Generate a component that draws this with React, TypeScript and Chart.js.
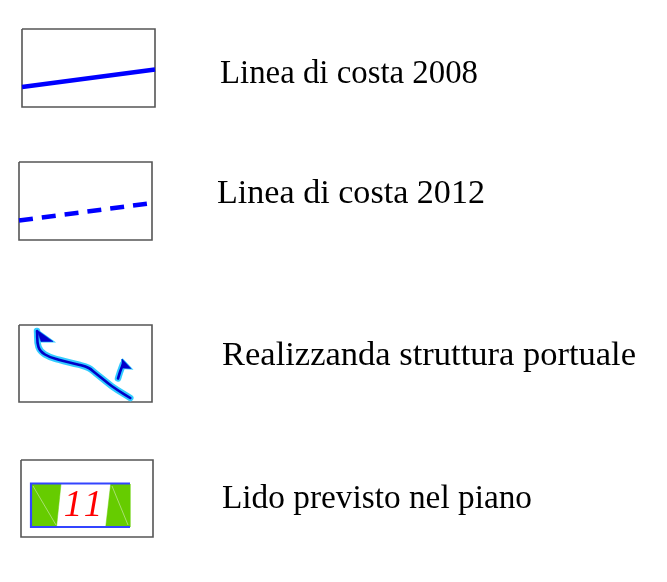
import React, { useEffect, useRef } from "react";
import { Chart, registerables } from "chart.js";

Chart.register(...registerables);

// Legend item frames [x0, y0, x1, y1]
const frames: number[][] = [
  [22, 29, 155, 107],
  [19, 162, 152, 240],
  [19, 325, 152, 402],
  [21, 460, 153, 537],
];

const labels = [
  "Linea di costa 2008",
  "Linea di costa 2012",
  "Realizzanda struttura portuale",
  "Lido previsto nel piano",
];
const labelX = [220, 217, 222, 222];
const labelY = [82.7, 203.3, 365, 508.3];
const labelW = [258, 268, 414, 310];

const coast2008 = [
  { x: 22, y: 87 },
  { x: 155, y: 69.5 },
];
const coast2012 = [
  { x: 19, y: 220.5 },
  { x: 152, y: 203 },
];
const portPath = [
  { x: 37, y: 331 },
  { x: 38.5, y: 347 },
  { x: 45, y: 354.5 },
  { x: 58.7, y: 359.7 },
  { x: 78.7, y: 364.7 },
  { x: 88.7, y: 368 },
  { x: 95.3, y: 373 },
  { x: 112, y: 386.3 },
  { x: 130.3, y: 398 },
];
const portFlag1 = [
  { x: 37, y: 330 },
  { x: 53, y: 341.5 },
  { x: 41, y: 341.5 },
  { x: 37, y: 330 },
];
const portStem = [
  { x: 118, y: 378.5 },
  { x: 120, y: 372 },
  { x: 123, y: 364 },
];
const portFlag2 = [
  { x: 122, y: 359 },
  { x: 131, y: 368.5 },
  { x: 122.5, y: 368 },
  { x: 122, y: 359 },
];
const lidoLeft = [
  { x: 31, y: 484 },
  { x: 61, y: 484 },
  { x: 56.5, y: 527 },
  { x: 31, y: 527 },
  { x: 31, y: 484 },
];
const lidoRight = [
  { x: 110.7, y: 484 },
  { x: 130, y: 484 },
  { x: 130, y: 527 },
  { x: 105.7, y: 527 },
  { x: 110.7, y: 484 },
];
const lidoDiagL = [
  { x: 33, y: 486 },
  { x: 56, y: 525 },
];
const lidoDiagR = [
  { x: 112, y: 486 },
  { x: 128, y: 525 },
];
const lidoBorder = [
  { x: 130, y: 483.5 },
  { x: 31, y: 483.5 },
  { x: 31, y: 527 },
  { x: 130, y: 527 },
];
const lidoNumber = "11";

const W = 667;
const H = 582;

function line(data: any[], color: string, width: number, extra: any = {}) {
  return {
    data: data.map((p) => ({ x: p.x, y: p.y })),
    showLine: true,
    borderColor: color,
    backgroundColor: color,
    borderWidth: width,
    pointRadius: 0,
    fill: false,
    ...extra,
  };
}

export default function App() {
  const ref = useRef<HTMLCanvasElement>(null);
  useEffect(() => {
    const framesData = frames.map(([x0, y0, x1, y1]) =>
      line(
        [
          { x: x0, y: y0 },
          { x: x1, y: y0 },
          { x: x1, y: y1 },
          { x: x0, y: y1 },
          { x: x0, y: y0 },
        ],
        "#555555",
        1.6
      )
    );
    const textPlugin = {
      id: "legendText",
      afterDraw(chart: any) {
        const ctx = chart.ctx;
        const xs = chart.scales.x;
        const ys = chart.scales.y;
        ctx.save();
        ctx.fillStyle = "#000";
        ctx.textBaseline = "alphabetic";
        ctx.textAlign = "left";
        labels.forEach((t, i) => {
          ctx.font = '34px "Liberation Serif", "Times New Roman", serif';
          const m = ctx.measureText(t).width;
          const x = xs.getPixelForValue(labelX[i]);
          const y = ys.getPixelForValue(labelY[i]);
          ctx.save();
          ctx.translate(x, y);
          ctx.scale(labelW[i] / m, 1);
          ctx.fillText(t, 0, 0);
          ctx.restore();
        });
        ctx.fillStyle = "#ff0000";
        ctx.font = 'italic 37px "Liberation Serif", "Times New Roman", serif';
        ctx.textAlign = "center";
        try {
          (ctx as any).letterSpacing = "4px";
        } catch (e) {}
        ctx.fillText(lidoNumber, xs.getPixelForValue(85), ys.getPixelForValue(515.5));
        ctx.restore();
      },
    };
    // listed bottom-to-top; "order" makes later entries draw on top
    const layers = [
      ...framesData,
      line(coast2008, "#0000ff", 4.5),
      line(coast2012, "#0000ff", 4.5, { borderDash: [14, 9] }),
      line(portPath, "#33ccff", 6.5, { tension: 0.4, borderCapStyle: "round", borderJoinStyle: "round" }),
      line(portStem, "#33ccff", 6.5, { borderCapStyle: "round" }),
      line(portFlag1, "#33ccff", 2, { fill: "shape", backgroundColor: "#33ccff" }),
      line(portFlag2, "#33ccff", 2, { fill: "shape", backgroundColor: "#33ccff" }),
      line(portPath, "#0000c8", 2.6, { tension: 0.4, borderCapStyle: "round", borderJoinStyle: "round" }),
      line(portStem, "#0000c8", 2.6, { borderCapStyle: "round" }),
      line(portFlag1, "#0000cc", 0.5, { fill: "shape", backgroundColor: "#0000cc" }),
      line(portFlag2, "#0000cc", 0.5, { fill: "shape", backgroundColor: "#0000cc" }),
      line(lidoLeft, "#66cc00", 0.5, { fill: "shape", backgroundColor: "#66cc00" }),
      line(lidoRight, "#66cc00", 0.5, { fill: "shape", backgroundColor: "#66cc00" }),
      line(lidoDiagL, "#a8e070", 1),
      line(lidoDiagR, "#a8e070", 1),
      line(lidoBorder, "#3344ff", 2.2),
    ].map((d, i, arr) => ({ ...d, order: arr.length - i }));
    const chart = new Chart(ref.current!, {
      type: "scatter",
      data: { datasets: layers },
      options: {
        responsive: false,
        animation: false,
        events: [],
        layout: { padding: 0 },
        plugins: { legend: { display: false }, tooltip: { enabled: false }, title: { display: false } },
        scales: {
          x: { type: "linear", min: 0, max: W, display: false },
          y: { type: "linear", min: 0, max: H, reverse: true, display: false },
        },
      },
      plugins: [textPlugin],
    });
    return () => chart.destroy();
  }, []);
  return (
    <div style={{ position: "fixed", left: 0, top: 0, width: W, height: H, background: "#fff" }}>
      <canvas ref={ref} width={W} height={H} style={{ width: W, height: H, display: "block" }} />
    </div>
  );
}
